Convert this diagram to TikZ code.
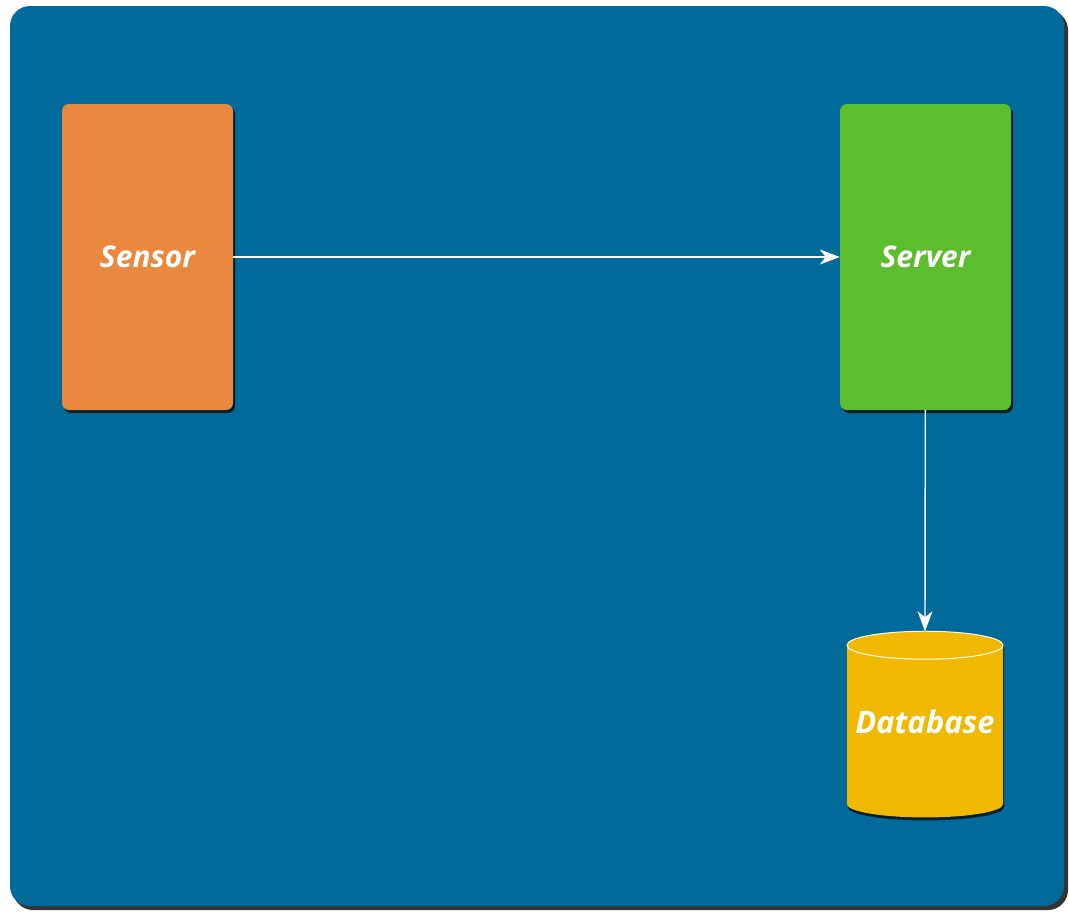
\documentclass[tikz,border=0pt]{standalone}
\usepackage{fontspec}
\setmainfont{Open Sans}
\usetikzlibrary{arrows.meta,shadows,shapes.geometric}

\definecolor{panelblue}{RGB}{0,106,154}
\definecolor{sensororange}{RGB}{234,136,64}
\definecolor{servergreen}{RGB}{92,189,46}
\definecolor{dbgold}{RGB}{240,184,0}

\begin{document}
\begin{tikzpicture}[x=1pt, y=-1pt, >={Stealth[length=20pt,width=15pt,inset=6pt]},
    unit/.style={rectangle, rounded corners=7pt, minimum width=171pt, minimum height=306pt,
        font=\fontsize{30}{32}\selectfont\bfseries\itshape, text=white,
        drop shadow={shadow xshift=2pt, shadow yshift=-3pt, fill=black, opacity=0.7}},
    store/.style={cylinder, shape border rotate=90, aspect=0.18, minimum width=156pt,
        minimum height=186pt, fill=dbgold, text=white,
        font=\fontsize{31}{33}\selectfont\bfseries\itshape,
        drop shadow={shadow xshift=1pt, shadow yshift=-3pt, fill=black, opacity=0.7}},
    link/.style={->, white, line width=1.4pt}]
    % Sfondo
    \useasboundingbox (0,0) rectangle (1069,911);
    \fill[black, opacity=0.8, rounded corners=20pt] (13,10) rectangle (1068,910);
    \fill[panelblue, rounded corners=20pt] (10,6) rectangle (1064,906);

    % Nodi
    \node[unit, fill=sensororange] (sensor) at (147.5,257) {Sensor};
    \node[unit, fill=servergreen] (server) at (925.5,257) {Server};
    \node[store] (db) at (925,733) {\raisebox{0pt}[0pt][0pt]{Database}};

    % Bordo superiore del cilindro
    \draw[white, line width=1pt] ([yshift=-14pt]db.top) ellipse [x radius=78pt, y radius=14pt];

    % Frecce
    \draw[link] (sensor) -- (server);
    \draw[link] (server) -- (db.top);
\end{tikzpicture}
\end{document}
